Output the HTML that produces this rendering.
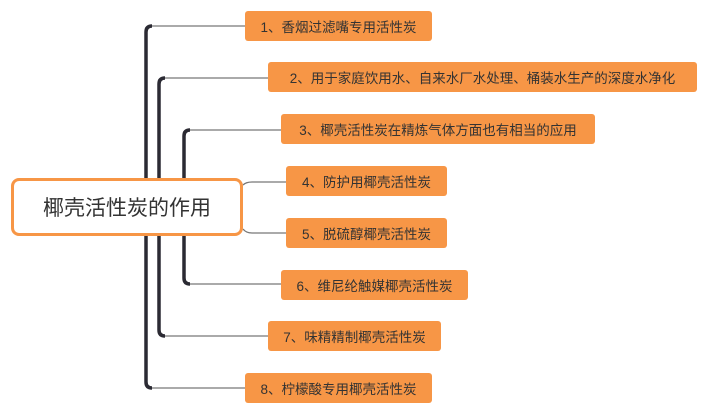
<!DOCTYPE html><html><head><meta charset="utf-8"><style>
body{margin:0;width:709px;height:412px;background:#fff;position:relative;overflow:hidden;font-family:"Liberation Sans","Noto Sans CJK SC",sans-serif}
.b{position:absolute;background:#f79646;border-radius:3px;color:#333;font-size:13.5px;display:flex;align-items:center;justify-content:center;height:30px;box-sizing:border-box;white-space:nowrap}
.r{position:absolute;left:11px;top:178px;width:232px;height:58px;border:3px solid #f79646;border-radius:8px;box-sizing:border-box;background:#fff;display:flex;align-items:center;justify-content:center;font-size:21px;color:#333}
svg{position:absolute;left:0;top:0}
</style></head><body>
<svg width="709" height="412">
<g fill="none" stroke="#777" stroke-width="1.3">
<path d="M150 26H245M163 78H268M188 130H281M188 284H281M163 336H268M150 388H245"/>
<path d="M243 185Q246 182 252 182H286M243 229Q246 233 252 233H286"/>
</g>
<g fill="none" stroke="#2b2a33" stroke-width="3.5">
<path d="M146 382V32Q146 26 152 26"/>
<path d="M146 382Q146 388 152 388"/>
<path d="M159 330V84Q159 78 165 78"/>
<path d="M159 330Q159 336 165 336"/>
<path d="M184 278V136Q184 130 190 130"/>
<path d="M184 278Q184 284 190 284"/>
</g>
</svg>
<div class="r">椰壳活性炭的作用</div>
<div class="b" style="left:245px;top:11px;width:187px">1、香烟过滤嘴专用活性炭</div>
<div class="b" style="left:268px;top:62px;width:429px">2、用于家庭饮用水、自来水厂水处理、桶装水生产的深度水净化</div>
<div class="b" style="left:281px;top:114px;width:314px">3、椰壳活性炭在精炼气体方面也有相当的应用</div>
<div class="b" style="left:286px;top:166px;width:161px">4、防护用椰壳活性炭</div>
<div class="b" style="left:286px;top:218px;width:161px">5、脱硫醇椰壳活性炭</div>
<div class="b" style="left:281px;top:270px;width:187px">6、维尼纶触媒椰壳活性炭</div>
<div class="b" style="left:268px;top:321px;width:173px">7、味精精制椰壳活性炭</div>
<div class="b" style="left:245px;top:373px;width:187px">8、柠檬酸专用椰壳活性炭</div>
</body></html>
